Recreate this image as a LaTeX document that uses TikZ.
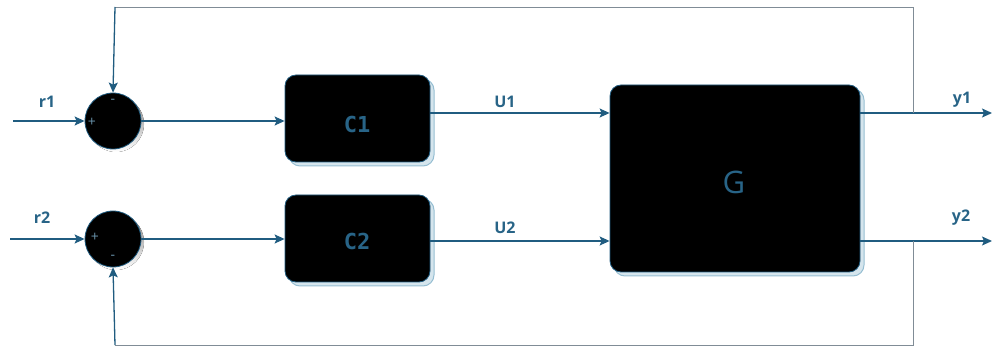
\documentclass[tikz,border=0pt]{standalone}
\usepackage{fontspec}
\setmainfont{Open Sans}
\newfontfamily\monof{DejaVu Sans Mono}
\usetikzlibrary{arrows.meta,calc}
\definecolor{wire}{RGB}{32,92,128}
\definecolor{fbgrey}{RGB}{128,140,150}
\definecolor{shade}{RGB}{150,190,210}
\definecolor{txt}{RGB}{40,100,135}
\tikzset{
  x=1pt, y=-1pt,
  wireline/.style={draw=wire, line width=1.3pt},
  arr/.style={wireline, -{Stealth[length=10pt,width=9pt,inset=2pt]}},
  blockbox/.style={draw=wire, line width=0.8pt, fill=black, rounded corners=11pt, minimum width=#1},
  shadowbox/.style={draw=shade, line width=1pt, fill=shade!40, rounded corners=11pt},
  sumnode/.style={circle, draw=wire, line width=0.8pt, fill=black, minimum size=56pt, inner sep=0pt},
  lbl/.style={text=txt, font=\bfseries\fontsize{16}{16}\selectfont},
  sgn/.style={text=txt!70!white, font=\fontsize{14}{14}\selectfont, inner sep=0pt},
  boxtxt/.style={text=txt, font=\monof\bfseries\fontsize{22}{22}\selectfont},
}
\begin{document}
\begin{tikzpicture}
\useasboundingbox (0,0) rectangle (992,352);

% shadows of the blocks
\fill[shade] (116,124) circle (28pt);
\fill[shade] (116,242) circle (28pt);
\draw[shadowbox] (289,79) rectangle (434,166);
\draw[shadowbox] (289,199) rectangle (434,286);
\draw[shadowbox] (614,89) rectangle (864,276);

% summing junctions
\node[sumnode] (s1) at (113,121) {};
\node[sumnode] (s2) at (113,239) {};
\node[sgn] at (92,122) {+};
\node[sgn] at (113,101) {-};
\node[sgn] at (95,237) {+};
\node[sgn] at (113,257) {-};

% controller and plant blocks
\node[blockbox=145pt, minimum height=87pt] (c1) at (357.5,118.5) {};
\node[boxtxt] at (357,124) {C1};
\node[blockbox=145pt, minimum height=87pt] (c2) at (357.5,238.5) {};
\node[boxtxt] at (357,241) {C2};
\node[blockbox=250pt, minimum height=187pt] (g) at (735,178.5) {};
\node[text=txt, font=\fontsize{31}{31}\selectfont] at (734,182) {G};

% reference inputs
\coordinate (r1in) at (13,121);
\coordinate (r2in) at (10,239);
\draw[arr] (r1in) -- (s1.west);
\draw[arr] (r2in) -- (s2.west);
\node[lbl] at (47,102) {r1};
\node[lbl] at (42,218) {r2};

% errors into controllers
\draw[arr] (s1.east) -- (c1.west |- s1.east);
\draw[arr] (s2.east) -- (c2.west |- s2.east);

% control signals
\coordinate (u1a) at (430,113);
\coordinate (u2a) at (430,241);
\draw[arr] (u1a) -- (g.west |- u1a);
\draw[arr] (u2a) -- (g.west |- u2a);
\node[lbl] at (505,102) {U1};
\node[lbl] at (505,228) {U2};

% outputs
\coordinate (y1a) at (860,113);
\coordinate (y2a) at (860,241);
\coordinate (y1out) at (992,113);
\coordinate (y2out) at (992,241);
\draw[arr] (y1a) -- (y1out);
\draw[arr] (y2a) -- (y2out);
\node[lbl] at (962,100) {y1};
\node[lbl] at (961,218) {y2};

% feedback paths
\coordinate (b1) at (913,113);
\coordinate (t1) at (913,7);
\coordinate (t2) at (115,7);
\coordinate (b2) at (913,241);
\coordinate (d1) at (913,345);
\coordinate (d2) at (115,345);
\draw[fbgrey, line width=0.9pt] (b1) -- (t1) -- (t2);
\draw[fbgrey, line width=0.9pt] (b2) -- (d1) -- (d2);
\draw[arr] (t2) -- (s1.north);
\draw[arr] (d2) -- (s2.south);
\end{tikzpicture}
\end{document}
